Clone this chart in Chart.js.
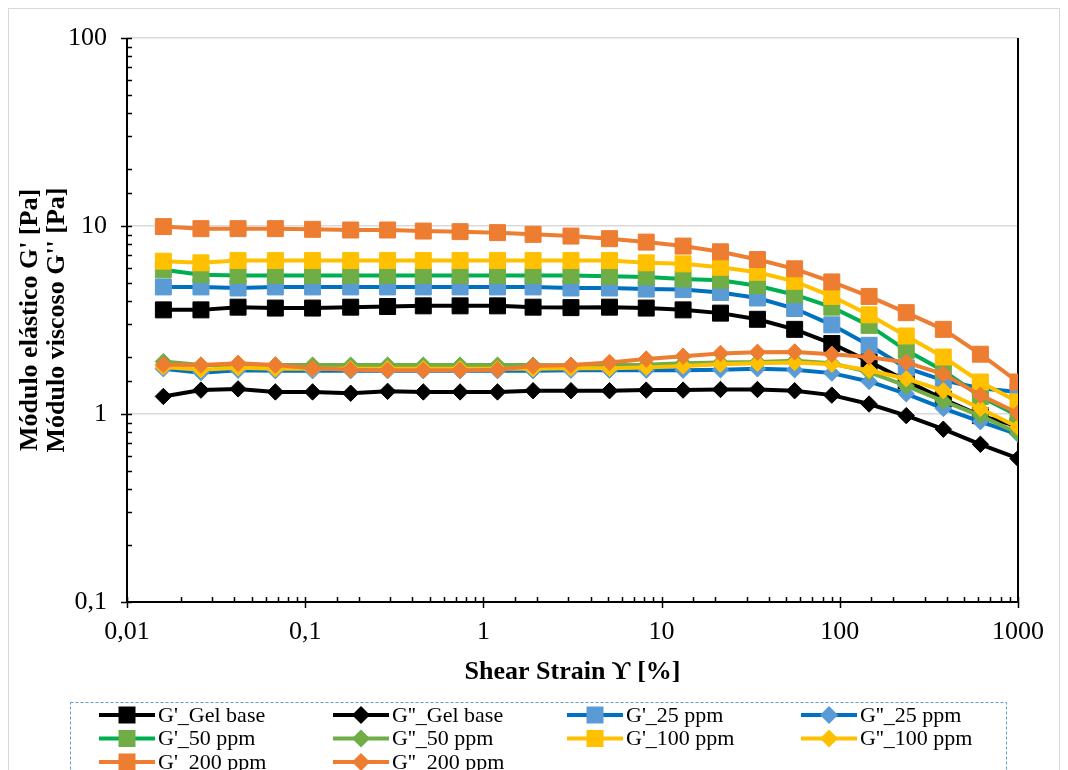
<!DOCTYPE html>
<html>
<head>
<meta charset="utf-8">
<title>Módulo elástico / viscoso</title>
<script src="https://cdn.jsdelivr.net/npm/chart.js@4.4.1/dist/chart.umd.min.js"></script>
<style>
  html, body { margin: 0; padding: 0; background: #fff; }
  #wrap { position: relative; width: 1068px; height: 770px; }
</style>
</head>
<body>
<div id="wrap"><canvas id="myChart"></canvas></div>
<script>
// strain values (%)
const strain = [0.016, 0.026, 0.042, 0.068, 0.11, 0.18, 0.29, 0.46, 0.74, 1.2, 1.9, 3.1,
  5.1, 8.2, 13.2, 21.4, 34.5, 55.8, 90.2, 146, 236, 381, 615, 1000];

// G' and G'' (Pa)
const gelG1 = [3.58, 3.58, 3.70, 3.66, 3.66, 3.70, 3.73, 3.76, 3.76, 3.76, 3.70, 3.68,
  3.70, 3.66, 3.58, 3.44, 3.19, 2.82, 2.37, 1.90, 1.50, 1.20, 0.98, 0.86];
const gelG2 = [1.24, 1.34, 1.36, 1.31, 1.31, 1.29, 1.32, 1.31, 1.31, 1.31, 1.33, 1.33,
  1.33, 1.34, 1.34, 1.35, 1.35, 1.33, 1.26, 1.13, 0.98, 0.83, 0.69, 0.58];
const p25G1 = [4.74, 4.74, 4.68, 4.74, 4.74, 4.74, 4.74, 4.74, 4.74, 4.74, 4.74, 4.68,
  4.68, 4.62, 4.59, 4.43, 4.14, 3.64, 2.98, 2.32, 1.76, 1.51, 1.37, 1.31];
const p25G2 = [1.74, 1.66, 1.71, 1.70, 1.70, 1.70, 1.70, 1.70, 1.70, 1.70, 1.70, 1.71,
  1.71, 1.71, 1.71, 1.72, 1.74, 1.72, 1.65, 1.49, 1.28, 1.07, 0.91, 0.78];
const p50G1 = [5.85, 5.51, 5.45, 5.45, 5.45, 5.45, 5.45, 5.45, 5.45, 5.45, 5.45, 5.45,
  5.40, 5.36, 5.23, 5.14, 4.81, 4.31, 3.70, 2.96, 2.18, 1.70, 1.24, 0.98];
const p50G2 = [1.90, 1.82, 1.82, 1.82, 1.82, 1.82, 1.82, 1.82, 1.82, 1.82, 1.82, 1.81,
  1.82, 1.83, 1.86, 1.88, 1.89, 1.92, 1.86, 1.67, 1.41, 1.17, 0.98, 0.79];
const p100G1 = [6.50, 6.37, 6.55, 6.55, 6.55, 6.55, 6.55, 6.55, 6.55, 6.55, 6.55, 6.55,
  6.55, 6.37, 6.29, 6.03, 5.67, 5.08, 4.22, 3.37, 2.60, 2.01, 1.48, 1.16];
const p100G2 = [1.78, 1.72, 1.76, 1.74, 1.74, 1.74, 1.74, 1.74, 1.74, 1.74, 1.74, 1.75,
  1.75, 1.77, 1.80, 1.84, 1.86, 1.88, 1.84, 1.71, 1.54, 1.33, 1.07, 0.85];
const p200G1 = [9.93, 9.68, 9.68, 9.68, 9.60, 9.52, 9.52, 9.40, 9.33, 9.22, 9.03, 8.84,
  8.56, 8.21, 7.82, 7.29, 6.63, 5.92, 5.04, 4.22, 3.46, 2.82, 2.08, 1.48];
const p200G2 = [1.83, 1.82, 1.86, 1.82, 1.75, 1.72, 1.71, 1.71, 1.71, 1.72, 1.80, 1.82,
  1.88, 1.96, 2.03, 2.10, 2.13, 2.14, 2.08, 2.01, 1.88, 1.63, 1.26, 1.01];

const seriesNames = ["G'_Gel base", "G''_Gel base", "G'_25 ppm", "G''_25 ppm",
  "G'_50 ppm", "G''_50 ppm", "G'_100 ppm", "G''_100 ppm", "G'_200 ppm", "G''_200 ppm"];

const xTickLabels = { "0.01": "0,01", "0.1": "0,1", "1": "1", "10": "10", "100": "100", "1000": "1000" };
const yTickLabels = { "0.1": "0,1", "1": "1", "10": "10", "100": "100" };

const SERIF = "'Liberation Serif', 'Times New Roman', serif";

const isMajor = (v) => {
  const l = Math.log10(v);
  return Math.abs(l - Math.round(l)) < 1e-6;
};
const keyOf = (v) => String(Math.pow(10, Math.round(Math.log10(v))));

function makeSet(idx, values, lineColor, markColor, style) {
  return {
    label: seriesNames[idx],
    data: strain.map((x, i) => ({ x: x, y: values[i] })),
    borderColor: lineColor,
    backgroundColor: markColor,
    pointBackgroundColor: markColor,
    pointBorderColor: markColor,
    pointBorderWidth: 1,
    pointStyle: style,
    pointRadius: style === "rect" ? 11.3 : 8.2,
    borderWidth: 4,
    tension: 0,
    fill: false,
    order: 10 - idx,
  };
}

const datasets = [
  makeSet(0, gelG1, "#000000", "#000000", "rect"),
  makeSet(1, gelG2, "#000000", "#000000", "rectRot"),
  makeSet(2, p25G1, "#0070C0", "#5B9BD5", "rect"),
  makeSet(3, p25G2, "#0070C0", "#5B9BD5", "rectRot"),
  makeSet(4, p50G1, "#00B050", "#70AD47", "rect"),
  makeSet(5, p50G2, "#70AD47", "#70AD47", "rectRot"),
  makeSet(6, p100G1, "#FFC000", "#FFC000", "rect"),
  makeSet(7, p100G2, "#FFC000", "#FFC000", "rectRot"),
  makeSet(8, p200G1, "#ED7D31", "#ED7D31", "rect"),
  makeSet(9, p200G2, "#ED7D31", "#ED7D31", "rectRot"),
];

// axis lines + Excel-like tick marks (minor ticks inside, major ticks crossing)
const axesPlugin = {
  id: "axesPlugin",
  beforeDraw(chart) {
    const ctx = chart.ctx;
    ctx.save();
    ctx.strokeStyle = "#D9D9D9";
    ctx.lineWidth = 1;
    ctx.strokeRect(8.5, 8.5, 1051, 800);
    ctx.restore();
  },
  beforeDatasetsDraw(chart) {
    const { ctx, chartArea: a, scales } = chart;
    const xs = scales.x, ys = scales.y;
    ctx.save();
    ctx.strokeStyle = "#000";
    ctx.lineWidth = 1.5;
    ctx.beginPath();
    xs.ticks.forEach((t) => {
      const px = Math.round(xs.getPixelForValue(t.value)) + 0.5;
      ctx.moveTo(px, a.bottom - 5);
      ctx.lineTo(px, a.bottom + (isMajor(t.value) ? 6 : 0));
    });
    ys.ticks.forEach((t) => {
      const py = Math.round(ys.getPixelForValue(t.value)) + 0.5;
      ctx.moveTo(a.left + 5, py);
      ctx.lineTo(a.left - (isMajor(t.value) ? 6 : 0), py);
    });
    ctx.stroke();
    ctx.lineWidth = 2;
    ctx.beginPath();
    ctx.moveTo(a.left, a.top);
    ctx.lineTo(a.left, a.bottom);
    ctx.lineTo(a.right, a.bottom);
    ctx.moveTo(a.right, a.top);
    ctx.lineTo(a.right, a.bottom);
    ctx.stroke();
    ctx.restore();
  },
};

// legend in a dashed box, 4 fixed columns
const boxLegend = {
  id: "boxLegend",
  afterDraw(chart) {
    const ctx = chart.ctx;
    ctx.save();
    ctx.setLineDash([3, 2]);
    ctx.strokeStyle = "#5B9BD5";
    ctx.lineWidth = 1;
    ctx.strokeRect(70.5, 702.5, 936, 100);
    ctx.setLineDash([]);
    chart.data.datasets.forEach((ds, i) => {
      const cx = 127 + (i % 4) * 234;
      const cy = 715 + Math.floor(i / 4) * 23.5;
      ctx.strokeStyle = ds.borderColor;
      ctx.lineWidth = 4;
      ctx.beginPath();
      ctx.moveTo(cx - 28, cy);
      ctx.lineTo(cx + 28, cy);
      ctx.stroke();
      ctx.fillStyle = ds.pointBackgroundColor;
      ctx.beginPath();
      if (ds.pointStyle === "rect") {
        ctx.rect(cx - 8.5, cy - 8.5, 17, 17);
      } else {
        ctx.moveTo(cx - 9, cy);
        ctx.lineTo(cx, cy - 9);
        ctx.lineTo(cx + 9, cy);
        ctx.lineTo(cx, cy + 9);
        ctx.closePath();
      }
      ctx.fill();
      ctx.fillStyle = "#000";
      ctx.font = "22px " + SERIF;
      ctx.textBaseline = "middle";
      ctx.textAlign = "left";
      ctx.fillText(ds.label, cx + 31, cy + 1);
    });
    ctx.restore();
  },
};

new Chart(document.getElementById("myChart"), {
  type: "line",
  data: { datasets: datasets },
  options: {
    responsive: true,
    maintainAspectRatio: false,
    animation: false,
    layout: { padding: { left: 8, top: 38, right: 50, bottom: 80 } },
    plugins: { legend: { display: false }, tooltip: { enabled: false } },
    scales: {
      x: {
        type: "logarithmic",
        min: 0.01,
        max: 1000,
        afterFit: (s) => { s.height = 88; },
        border: { display: false },
        grid: { display: false, drawTicks: false },
        ticks: {
          autoSkip: false,
          maxRotation: 0,
          padding: 15,
          color: "#000",
          font: { family: SERIF, size: 26 },
          callback: (v) => (isMajor(v) ? xTickLabels[keyOf(v)] : ""),
        },
        title: {
          display: true,
          text: "Shear Strain ϒ [%]",
          color: "#000",
          font: { family: SERIF, size: 26, weight: "bold" },
          padding: { top: 0, bottom: 2 },
        },
      },
      y: {
        type: "logarithmic",
        min: 0.1,
        max: 100,
        afterFit: (s) => { s.width = 119; },
        border: { display: false },
        grid: {
          drawTicks: false,
          lineWidth: 1.5,
          color: (c) => (c.tick && isMajor(c.tick.value) ? "#D9D9D9" : "rgba(0,0,0,0)"),
        },
        ticks: {
          autoSkip: false,
          padding: 20,
          color: "#000",
          font: { family: SERIF, size: 26 },
          callback: (v) => (isMajor(v) ? yTickLabels[keyOf(v)] : ""),
        },
        title: {
          display: true,
          text: ["Módulo elástico G' [Pa]", "Módulo viscoso G'' [Pa]"],
          color: "#000",
          font: { family: SERIF, size: 26, weight: "bold", lineHeight: 1.04 },
          padding: { top: 9, bottom: 0 },
        },
      },
    },
  },
  plugins: [axesPlugin, boxLegend],
});
</script>
</body>
</html>
